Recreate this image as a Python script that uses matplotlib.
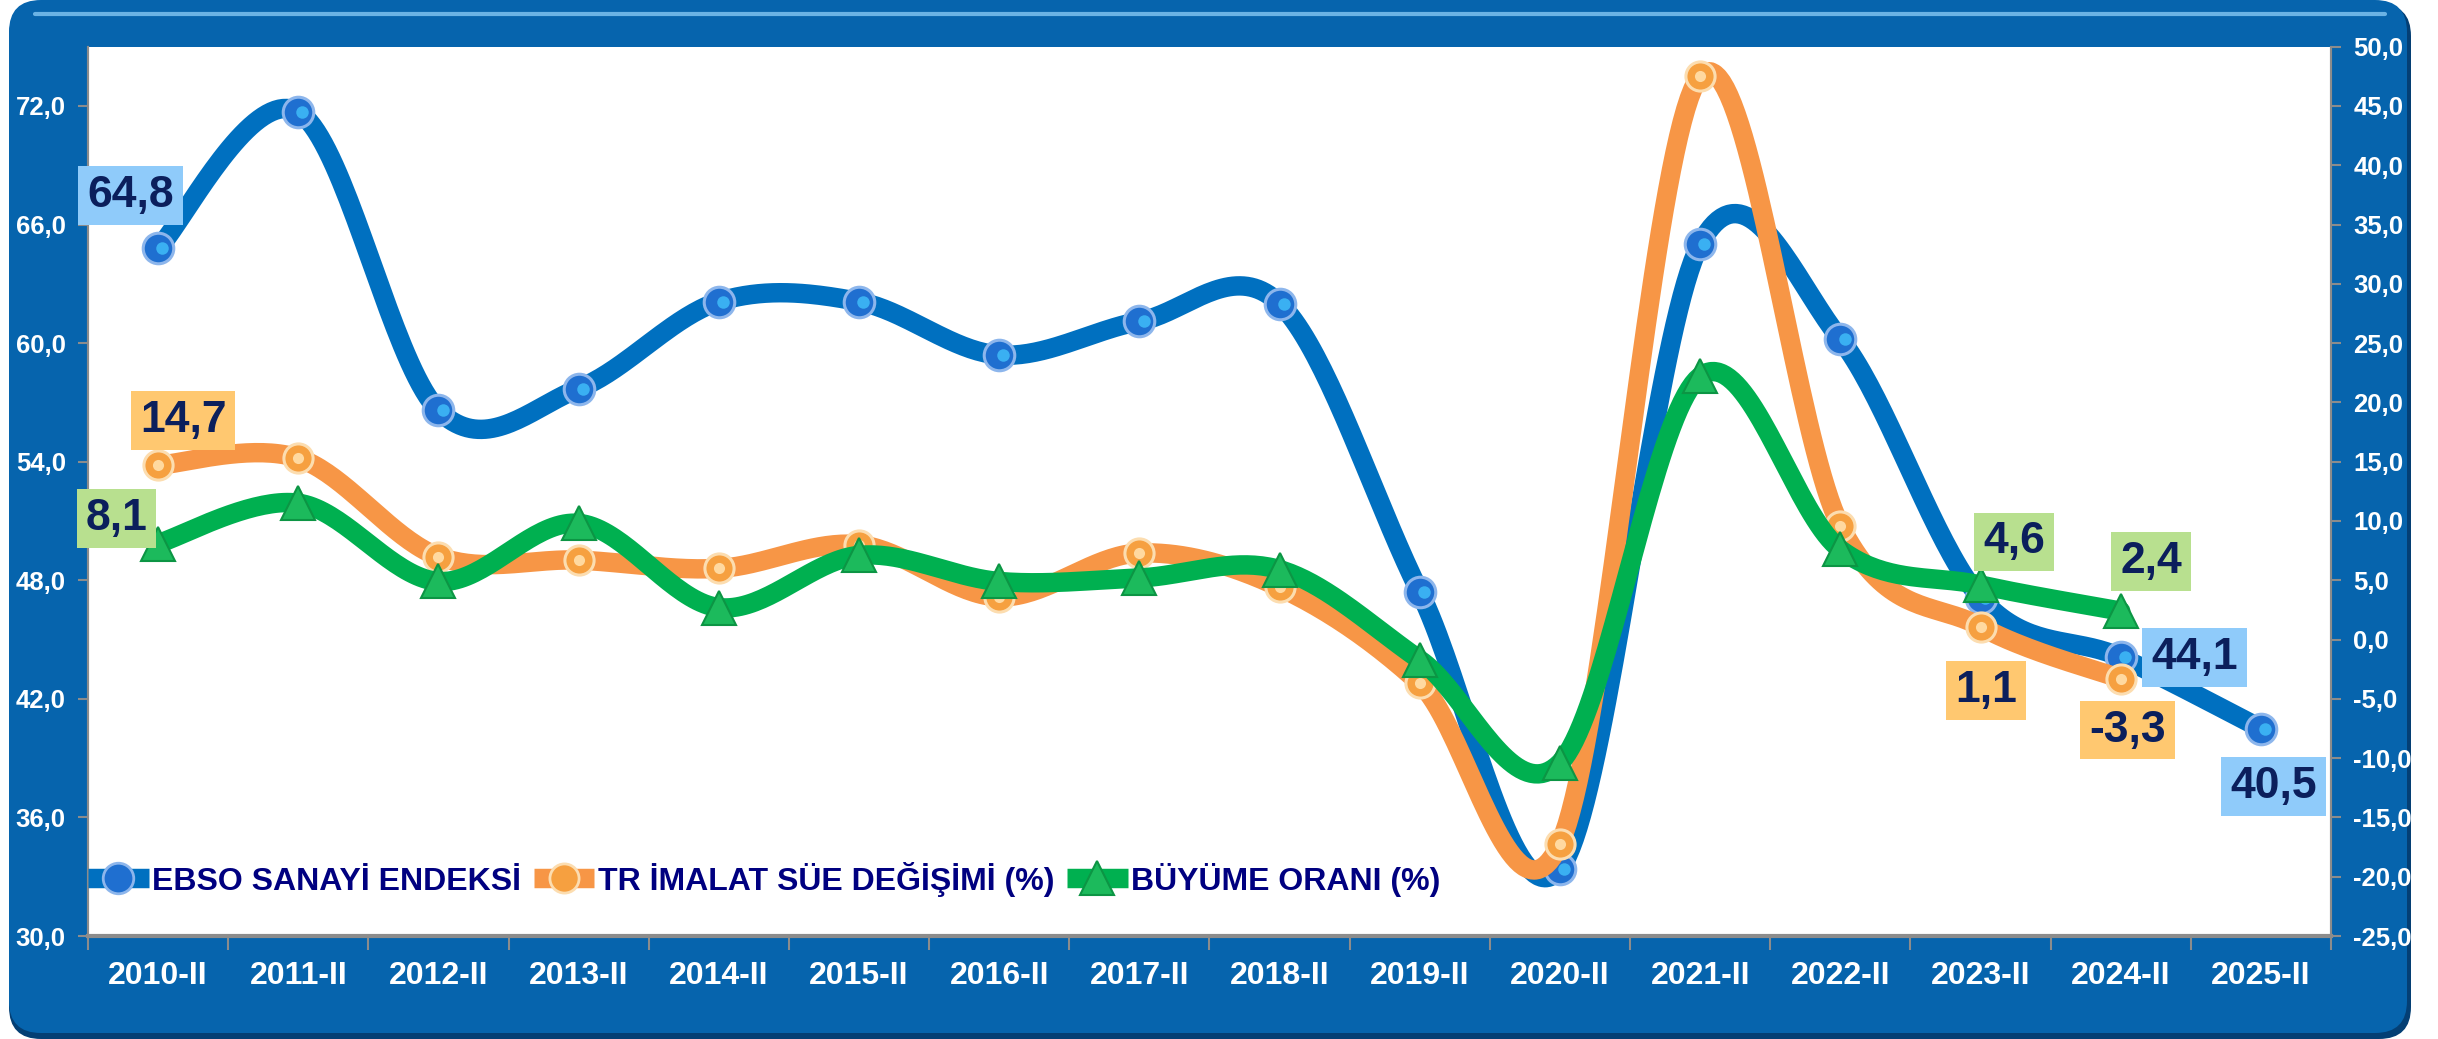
import numpy as np
import matplotlib
matplotlib.use("Agg")
import matplotlib.pyplot as plt
from matplotlib.patches import FancyBboxPatch
from matplotlib.lines import Line2D

plt.rcParams["font.family"] = ["Liberation Sans", "DejaVu Sans"]
plt.rcParams["font.weight"] = "bold"

# ---- data ----
periods = ["2010-II", "2011-II", "2012-II", "2013-II", "2014-II", "2015-II",
           "2016-II", "2017-II", "2018-II", "2019-II", "2020-II", "2021-II",
           "2022-II", "2023-II", "2024-II", "2025-II"]
ebso = [64.8, 71.7, 56.6, 57.7, 62.1, 62.1, 59.4, 61.1, 62.0, 47.4,
        33.4, 65.0, 60.2, 47.1, 44.1, 40.5]
imalat = [14.7, 15.3, 7.0, 6.7, 6.0, 8.0, 3.6, 7.3, 4.4, -3.7,
          -17.2, 47.5, 9.6, 1.1, -3.3]
buyume = [8.1, 11.5, 4.9, 9.8, 2.7, 7.1, 4.9, 5.2, 5.9, -1.7,
          -10.4, 22.2, 7.6, 4.6, 2.4]

series_names = ["EBSO SANAYİ ENDEKSİ", "TR İMALAT SÜE DEĞİŞİMİ (%)", "BÜYÜME ORANI (%)"]

BLUE = "#0070C0"
ORANGE = "#F79646"
GREEN = "#00B050"
FRAME = "#0664AD"
NAVY_TXT = "#0B1F5C"
LEG_TXT = "#000080"
LW = 14


def fmt(v):
    return f"{v:.1f}".replace(".", ",")


def smooth(xs, ys, n=40):
    """Excel tarzı yumuşatılmış çizgi (Catmull-Rom / Bezier)"""
    xs = np.asarray(xs, float)
    ys = np.asarray(ys, float)
    pts = np.column_stack([xs, ys])
    out = []
    t = np.linspace(0, 1, n)[:, None]
    for i in range(len(pts) - 1):
        p0 = pts[max(i - 1, 0)]
        p1 = pts[i]
        p2 = pts[i + 1]
        p3 = pts[min(i + 2, len(pts) - 1)]
        c1 = p1 + (p2 - p0) / 6.0
        c2 = p2 - (p3 - p1) / 6.0
        seg = ((1 - t) ** 3) * p1 + 3 * ((1 - t) ** 2) * t * c1 \
            + 3 * (1 - t) * t ** 2 * c2 + t ** 3 * p2
        out.append(seg if i == 0 else seg[1:])
    out = np.vstack(out)
    return out[:, 0], out[:, 1]


fig = plt.figure(figsize=(24.38, 10.39), dpi=100)
fig.patch.set_facecolor("white")

# çerçeve (axes'in altında kalsın diye zorder negatif)
shadow = FancyBboxPatch((0.09, 0.0), 24.02, 10.35,
                        boxstyle="round,pad=0,rounding_size=0.32",
                        transform=fig.dpi_scale_trans, facecolor="#043F74",
                        edgecolor="none", zorder=-3)
frame = FancyBboxPatch((0.09, 0.06), 23.98, 10.33,
                       boxstyle="round,pad=0,rounding_size=0.32",
                       transform=fig.dpi_scale_trans, facecolor=FRAME,
                       edgecolor="none", zorder=-2)
fig.patches.extend([shadow, frame])
fig.lines.append(Line2D([0.35, 23.85], [10.25, 10.25], transform=fig.dpi_scale_trans,
                        color="#7CC2F0", lw=3.0, alpha=0.85, solid_capstyle="round",
                        zorder=-1))

ax = fig.add_axes([0.0361, 0.0991, 0.9200, 0.8560])
ax.set_facecolor("white")
ax2 = ax.twinx()

x_all = np.arange(len(periods))
x_sub = np.arange(len(imalat))

# EBSO (sol eksen)
sx, sy = smooth(x_all, ebso)
ax.plot(sx, sy, color=BLUE, lw=LW, solid_capstyle="round", zorder=2)
ax.plot(x_all, ebso, "o", ms=22, mfc="#1F6FD0", mec="#8DB6EC", mew=2.2, zorder=3)
ax.plot(x_all + 0.03, ebso, "o", ms=9, mfc="#3AB0F2", mec="none", zorder=4)

# İmalat (sağ eksen)
sx, sy = smooth(x_sub, imalat)
ax2.plot(sx, sy, color=ORANGE, lw=LW, solid_capstyle="round", zorder=2)
ax2.plot(x_sub, imalat, "o", ms=21, mfc="#F6A040", mec="#FCDDB0", mew=2.2, zorder=3)
ax2.plot(x_sub, imalat, "o", ms=8, mfc="#FFD9A0", mec="none", zorder=4)

# Büyüme (sağ eksen)
sx, sy = smooth(x_sub, buyume)
ax2.plot(sx, sy, color=GREEN, lw=LW, solid_capstyle="round", zorder=5)
ax2.plot(x_sub, buyume, "^", ms=25, mfc="#1CBA5C", mec="#0C9544", mew=1.5, zorder=6)

# eksenler
ax.set_xlim(-0.5, len(periods) - 0.5)
ax.set_ylim(30, 75)
ax2.set_ylim(-25, 50)
ax.set_yticks(np.arange(30, 73, 6))
ax.set_yticklabels([fmt(v) for v in np.arange(30, 73, 6)])
ax2.set_yticks(np.arange(-25, 51, 5))
ax2.set_yticklabels([fmt(v) for v in np.arange(-25, 51, 5)])

ax.set_xticks(np.arange(-0.5, len(periods), 1.0))
ax.set_xticklabels([])
ax.set_xticks(x_all, minor=True)
ax.set_xticklabels(periods, minor=True)
ax.tick_params(axis="x", which="major", length=10, width=1.5, color="#8C8C8C", direction="out")
ax.tick_params(axis="x", which="minor", length=0, pad=18, labelsize=23, labelcolor="white")
ax.tick_params(axis="y", length=7, width=1.5, color="#8C8C8C", pad=9,
               labelsize=18.5, labelcolor="white")
ax2.tick_params(axis="y", length=7, width=1.5, color="#8C8C8C", pad=9,
                labelsize=18.5, labelcolor="white")
for a in (ax, ax2):
    for lab in a.get_xticklabels(which="both") + a.get_yticklabels():
        lab.set_fontweight("bold")
    for s in ("left", "right", "bottom"):
        a.spines[s].set_color("#8C8C8C")
        a.spines[s].set_linewidth(1.5)
    a.spines["top"].set_visible(False)
ax.spines["bottom"].set_linewidth(3)

# veri etiketleri
label_style = {
    "blue": "#8FCBFA",
    "orange": "#FFC870",
    "green": "#B8E08F",
}
labels = [
    (ax.transData, 0, ebso[0], (-20, 38), "blue"),
    (ax.transData, 14, ebso[14], (53, 0), "blue"),
    (ax.transData, 15, ebso[15], (9, -42), "blue"),
    (ax2.transData, 0, imalat[0], (18, 32), "orange"),
    (ax2.transData, 13, imalat[13], (4, -46), "orange"),
    (ax2.transData, 14, imalat[14], (5, -37), "orange"),
    (ax2.transData, 0, buyume[0], (-30, 18), "green"),
    (ax2.transData, 13, buyume[13], (24, 31), "green"),
    (ax2.transData, 14, buyume[14], (22, 36), "green"),
]
for tr, i, v, off, key in labels:
    ax2.annotate(fmt(v), xy=(i, v), xycoords=tr, xytext=off, textcoords="offset points",
                 ha="center", va="center", fontsize=32, fontweight="bold", color=NAVY_TXT,
                 bbox=dict(boxstyle="square,pad=0.2", fc=label_style[key], ec="none"),
                 zorder=10, annotation_clip=False)

# lejant
handles = [
    Line2D([], [], color=BLUE, lw=LW, solid_capstyle="butt", marker="o", ms=22,
           mfc="#1F6FD0", mec="#8DB6EC", mew=2),
    Line2D([], [], color=ORANGE, lw=LW, solid_capstyle="butt", marker="o", ms=21,
           mfc="#F6A040", mec="#FCDDB0", mew=2),
    Line2D([], [], color=GREEN, lw=LW, solid_capstyle="butt", marker="^", ms=25,
           mfc="#1CBA5C", mec="#0C9544", mew=1.5),
]
leg = ax2.legend(handles, series_names, loc="center left", bbox_to_anchor=(0.0, 0.064),
                 ncol=3, frameon=False, handlelength=1.9, handletextpad=0.1,
                 columnspacing=0.4, borderaxespad=0, borderpad=0,
                 prop={"size": 23, "weight": "bold"})
for t in leg.get_texts():
    t.set_color(LEG_TXT)

fig.savefig("out.png", dpi=100, facecolor="white")
